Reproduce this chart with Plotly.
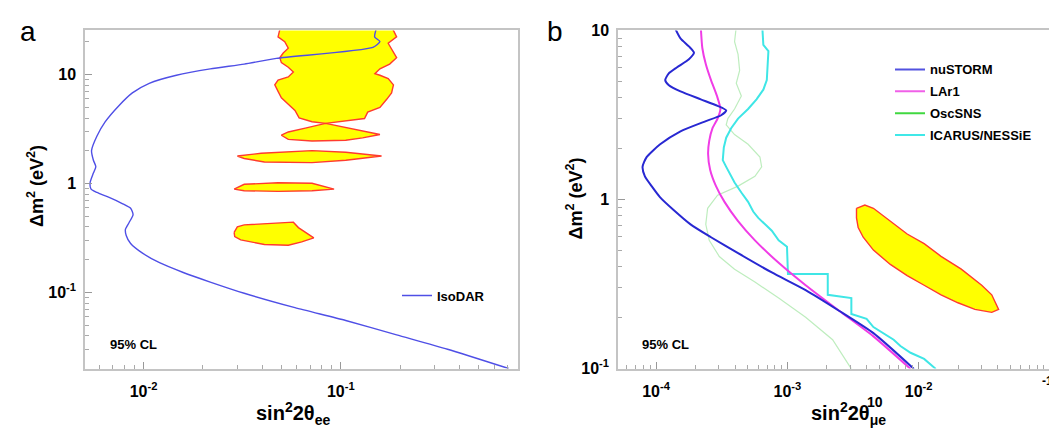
import plotly.graph_objects as go
import math

# ---------------- Panel a data ----------------
isodar_x = [0.151, 0.1486, 0.158, 0.1456, 0.0472, 0.0324, 0.0218, 0.01468, 0.01069, 0.00878,
            0.0075, 0.0064, 0.0058, 0.00545, 0.00557, 0.00573, 0.00557, 0.00536, 0.00542, 0.0058,
            0.00665, 0.0078, 0.0086, 0.00885, 0.00844, 0.0081, 0.00817, 0.0086, 0.00988, 0.01205,
            0.0159, 0.0218, 0.0324, 0.0586, 0.106, 0.192, 0.348, 0.71]
isodar_y = [26.0, 22.2, 20.1, 17.8, 14.1, 12.5, 11.3, 9.87, 8.33, 6.8,
            5.19, 3.70, 2.72, 2.01, 1.64, 1.43, 1.25, 1.02, 0.89, 0.83,
            0.752, 0.657, 0.594, 0.519, 0.438, 0.382, 0.334, 0.282, 0.230, 0.188,
            0.153, 0.125, 0.0986, 0.0727, 0.0555, 0.0409, 0.0302, 0.0201]

# allowed regions (yellow islands), panel a
reg1_x = [0.0500, 0.0481, 0.0520, 0.0542, 0.0511, 0.0491, 0.0500, 0.0542, 0.0575, 0.0542,
          0.0481, 0.0463, 0.0481, 0.0500, 0.0542, 0.0586, 0.0615, 0.0715, 0.0838,
          0.106, 0.132, 0.137, 0.158, 0.171, 0.181, 0.185, 0.174, 0.158, 0.149,
          0.158, 0.177, 0.192, 0.181, 0.174, 0.192, 0.177]
reg1_y = [30.0, 22.2, 20.1, 17.5, 15.8, 14.3, 12.9, 11.7, 10.6, 9.53,
          8.91, 8.05, 7.03, 6.14, 5.36, 4.69, 4.01, 3.70, 3.57,
          3.75, 3.96, 4.53, 5.01, 5.94, 6.8, 8.05, 9.22, 9.87, 10.2,
          11.3, 12.5, 14.3, 17.5, 19.4, 22.2, 30.0]
reg2_x = [0.0838, 0.119, 0.158, 0.129, 0.106, 0.0715, 0.0542, 0.0500, 0.0542, 0.0661]
reg2_y = [3.57, 3.12, 2.82, 2.63, 2.50, 2.46, 2.55, 2.78, 2.98, 3.23]
reg3_x = [0.0299, 0.0395, 0.0715, 0.106, 0.161, 0.106, 0.0715, 0.041, 0.0324]
reg3_y = [1.79, 1.90, 2.01, 1.94, 1.79, 1.64, 1.56, 1.58, 1.70]
reg4_x = [0.0288, 0.0324, 0.0481, 0.0715, 0.0925, 0.0715, 0.0481, 0.0324]
reg4_y = [0.891, 0.986, 1.02, 1.007, 0.891, 0.861, 0.849, 0.861]
reg5_x = [0.0288, 0.0299, 0.0324, 0.041, 0.0575, 0.061, 0.073, 0.0634, 0.0542, 0.041,
          0.0351, 0.0311, 0.029]
reg5_y = [0.357, 0.401, 0.418, 0.429, 0.443, 0.395, 0.318, 0.292, 0.272, 0.276,
          0.292, 0.305, 0.327]

# ---------------- Panel b data ----------------
nustorm_x = [1.377e-4, 1.534e-4, 1.778e-4, 1.944e-4, 1.778e-4, 1.445e-4, 1.245e-4, 1.174e-4,
             1.245e-4, 1.534e-4, 2.19e-4, 2.94e-4, 3.42e-4, 3.13e-4, 2.32e-4, 1.534e-4,
             1.074e-4, 8.47e-5, 7.89e-5, 8.22e-5, 9.25e-5, 1.074e-4, 1.36e-4, 1.83e-4,
             2.62e-4, 4.21e-4, 7.61e-4, 1.377e-3, 2.49e-3, 4.52e-3, 9.2e-3]
nustorm_y = [10.5, 8.97, 8.04, 7.37, 6.75, 6.05, 5.55, 5.08,
             4.76, 4.36, 3.91, 3.58, 3.36, 3.15, 2.88, 2.53,
             2.12, 1.78, 1.56, 1.37, 1.20, 1.03, 0.867, 0.713,
             0.598, 0.481, 0.370, 0.291, 0.219, 0.162, 0.0995]

lar1_x = [2.19e-4, 2.25e-4, 2.39e-4, 2.62e-4, 2.91e-4, 3.09e-4, 2.94e-4, 2.69e-4, 2.54e-4,
          2.49e-4, 2.58e-4, 2.86e-4, 3.32e-4, 4.21e-4, 5.66e-4, 8.58e-4, 1.377e-3, 2.49e-3,
          4.52e-3, 8.67e-3]
lar1_y = [10.5, 7.87, 6.33, 5.08, 4.09, 3.43, 3.01, 2.64, 2.22,
          1.86, 1.50, 1.20, 0.968, 0.745, 0.573, 0.422, 0.311, 0.219,
          0.155, 0.0995]

oscsns_x = [4.08e-4, 3.96e-4, 4.21e-4, 4.33e-4, 4.08e-4, 4.46e-4, 3.96e-4, 3.52e-4, 3.42e-4,
            3.96e-4, 5.02e-4, 6.18e-4, 6.37e-4, 5.66e-4, 4.21e-4, 2.94e-4, 2.47e-4, 2.39e-4,
            2.54e-4, 3.03e-4, 3.96e-4, 5.66e-4, 8.58e-4, 1.377e-3, 2.21e-3, 3.07e-3]
oscsns_y = [10.5, 8.58, 7.21, 5.80, 4.87, 4.09, 3.43, 3.01, 2.76,
            2.42, 2.12, 1.78, 1.56, 1.37, 1.20, 1.06, 0.887, 0.713,
            0.573, 0.460, 0.387, 0.325, 0.261, 0.201, 0.148, 0.0995]

icarus_x = [6.44e-4, 6.56e-4, 7.17e-4, 7.09e-4, 6.97e-4, 6.56e-4, 5.82e-4, 5.02e-4, 4.21e-4,
            3.73e-4, 3.42e-4, 3.28e-4, 3.22e-4, 3.42e-4, 3.62e-4, 3.96e-4, 4.46e-4, 5.02e-4,
            5.49e-4, 6.0e-4, 6.76e-4, 7.61e-4, 8.58e-4, 9.93e-4, 1.01e-3, 2.03e-3, 2.03e-3,
            3.07e-3, 3.07e-3, 4.01e-3, 4.52e-3, 5.40e-3, 6.45e-3, 7.26e-3, 8.67e-3, 1.10e-2,
            1.35e-2]
icarus_y = [10.5, 8.22, 7.54, 6.33, 5.08, 4.46, 3.91, 3.43, 3.01,
            2.64, 2.32, 2.03, 1.71, 1.56, 1.43, 1.26, 1.10, 0.968,
            0.849, 0.778, 0.713, 0.653, 0.573, 0.525, 0.362, 0.362, 0.273,
            0.261, 0.210, 0.197, 0.176, 0.162, 0.148, 0.136, 0.124, 0.114,
            0.0995]

ell_x = [3.36e-3, 3.89e-3, 4.52e-3, 6.08e-3, 8.17e-3, 1.10e-2, 1.48e-2, 2.11e-2, 3.02e-2,
         3.60e-2, 4.06e-2, 3.60e-2, 2.68e-2, 1.99e-2, 1.48e-2, 1.10e-2, 8.17e-3, 6.08e-3,
         4.52e-3, 3.78e-3, 3.46e-3, 3.36e-3]
ell_y = [0.887, 0.927, 0.887, 0.745, 0.625, 0.548, 0.461, 0.387, 0.311,
         0.273, 0.224, 0.215, 0.224, 0.245, 0.273, 0.311, 0.355, 0.413,
         0.502, 0.598, 0.682, 0.778]

# tick labels
a_xticks = [0.01, 0.1]
a_xlabels = ["10<sup>-2</sup>", "10<sup>-1</sup>"]
a_yticks = [0.1, 1, 10]
a_ylabels = ["10<sup>-1</sup>", "1", "10"]
b_xticks = [1e-4, 1e-3, 1e-2]
b_xlabels = ["10<sup>-4</sup>", "10<sup>-3</sup>", "10<sup>-2</sup>"]
b_yticks = [0.1, 1, 10]
b_ylabels = ["10<sup>-1</sup>", "1", "10"]

W, H = 1057, 432
FONT = "Liberation Sans, Arial, sans-serif"
YEL = "#ffff00"
RED = "#ff3b2f"

def minor_vals(lo_exp, hi_exp):
    vals = []
    for e in range(lo_exp, hi_exp + 1):
        for m in range(2, 10):
            vals.append(m * 10 ** e)
    return vals

fig = go.Figure()

def region(x, y, xa, ya):
    fig.add_trace(go.Scatter(x=x + [x[0]], y=y + [y[0]], mode="lines", fill="toself",
                             fillcolor=YEL, line=dict(color=RED, width=1.4),
                             xaxis=xa, yaxis=ya, showlegend=False, hoverinfo="skip"))

for rx, ry in [(reg1_x, reg1_y), (reg2_x, reg2_y), (reg3_x, reg3_y), (reg4_x, reg4_y), (reg5_x, reg5_y)]:
    region(rx, ry, "x", "y")

fig.add_trace(go.Scatter(x=isodar_x, y=isodar_y, mode="lines", name="IsoDAR",
                         line=dict(color="#4f4fe6", width=1.4, shape="spline", smoothing=0.6),
                         xaxis="x", yaxis="y", legend="legend"))

region(ell_x, ell_y, "x2", "y2")

fig.add_trace(go.Scatter(x=oscsns_x, y=oscsns_y, mode="lines", showlegend=False,
                         line=dict(color="rgba(110,215,110,0.45)", width=1.2),
                         xaxis="x2", yaxis="y2"))
fig.add_trace(go.Scatter(x=icarus_x, y=icarus_y, mode="lines", showlegend=False,
                         line=dict(color="#3fe6e6", width=2), xaxis="x2", yaxis="y2"))
fig.add_trace(go.Scatter(x=lar1_x, y=lar1_y, mode="lines", showlegend=False,
                         line=dict(color="#f03ce6", width=2, shape="spline", smoothing=0.6),
                         xaxis="x2", yaxis="y2"))
fig.add_trace(go.Scatter(x=nustorm_x, y=nustorm_y, mode="lines", showlegend=False,
                         line=dict(color="#2828d2", width=2, shape="spline", smoothing=0.6),
                         xaxis="x2", yaxis="y2"))

# legend entries for panel b
leg_items = [("nuSTORM", "#5252e0"), ("LAr1", "#f060e8"), ("OscSNS", "#40d840"), ("ICARUS/NESSiE", "#40e8e8")]
for i, (nm, col) in enumerate(leg_items):
    fig.add_trace(go.Scatter(x=[None], y=[None], mode="lines", name=nm,
                             line=dict(color=col, width=2), xaxis="x2", yaxis="y2",
                             legend="legend2", legendgroup="g%d" % i))

def xaxis_cfg(dom, rng, tv, tt, minor):
    return dict(domain=dom, type="log", range=rng, tickvals=tv, ticktext=tt,
                ticks="inside", ticklen=7, tickcolor="#999", tickwidth=1,
                showline=True, linecolor="#c4c4c4", linewidth=1.5, mirror=True,
                showgrid=False, zeroline=False, ticklabelstandoff=7,
                tickfont=dict(family=FONT, size=16, color="black", weight="bold"),
                minor=dict(tickvals=minor, ticks="inside", ticklen=4, tickcolor="#aaa", showgrid=False))

def yaxis_cfg(dom, rng, tv, tt, minor, anchor):
    return dict(domain=dom, type="log", range=rng, tickvals=tv, ticktext=tt, anchor=anchor,
                ticks="inside", ticklen=7, tickcolor="#999", tickwidth=1,
                showline=True, linecolor="#c4c4c4", linewidth=1.5, mirror=True,
                showgrid=False, zeroline=False, ticklabelstandoff=4,
                tickfont=dict(family=FONT, size=16, color="black", weight="bold"),
                minor=dict(tickvals=minor, ticks="inside", ticklen=4, tickcolor="#aaa", showgrid=False))

ydom = [1 - 367 / H, 1 - 15 / H]
fig.update_layout(
    width=W, height=H, margin=dict(l=0, r=0, t=0, b=0),
    paper_bgcolor="white", plot_bgcolor="white",
    font=dict(family=FONT, color="black"),
    xaxis=xaxis_cfg([77 / W, 510 / W], [math.log10(0.00505), math.log10(0.792)],
                    a_xticks, a_xlabels, minor_vals(-3, -1)),
    yaxis=yaxis_cfg(ydom, [-1.697, 1.406], a_yticks, a_ylabels, minor_vals(-2, 1), "x"),
    xaxis2=dict(xaxis_cfg([610 / W, 1042 / W], [-4.29, -1.0], b_xticks, b_xlabels, minor_vals(-5, -2)), anchor="y2"),
    yaxis2=yaxis_cfg(ydom, [-1.0, 1.0], b_yticks, b_ylabels, minor_vals(-1, 0), "x2"),
    legend=dict(x=389 / W, y=1 - 291 / H, xanchor="left", yanchor="middle",
                bgcolor="rgba(0,0,0,0)", font=dict(family=FONT, size=13, weight="bold")),
    legend2=dict(x=882 / W, y=1 - 40 / H, xanchor="left", yanchor="top",
                 bgcolor="rgba(0,0,0,0)", tracegroupgap=2, traceorder="grouped",
                 font=dict(family=FONT, size=13, weight="bold")),
    showlegend=True,
)

ann = []
def add_text(txt, x, y, size, bold=True, angle=0, xanchor="center", yanchor="middle"):
    ann.append(dict(text=txt, x=x / W, y=1 - y / H, xref="paper", yref="paper",
                    showarrow=False, textangle=angle, xanchor=xanchor, yanchor=yanchor,
                    borderpad=0,
                    font=dict(family=FONT, size=size, color="black", weight="bold" if bold else "normal")))

add_text("a", 20, 16, 28, bold=False)
add_text("b", 547, 16, 28, bold=False)
add_text("95% CL", 125, 342, 13)
add_text("95% CL", 657, 342, 13)
add_text("sin<sup>2</sup>2θ<sub>ee</sub>", 285, 414, 20)
add_text("Δm<sup>2</sup> (eV<sup>2</sup>)", 27, 177, 18, angle=-90)
add_text("sin<sup>2</sup>2θ<sub>μe</sub>", 840, 414, 20)
add_text("10", 867, 402, 14)
add_text("Δm<sup>2</sup> (eV<sup>2</sup>)", 567, 190, 18, angle=-90)
add_text("-1", 1046, 380, 12, xanchor="right")
fig.update_layout(annotations=ann)

fig.write_html("out.html")
